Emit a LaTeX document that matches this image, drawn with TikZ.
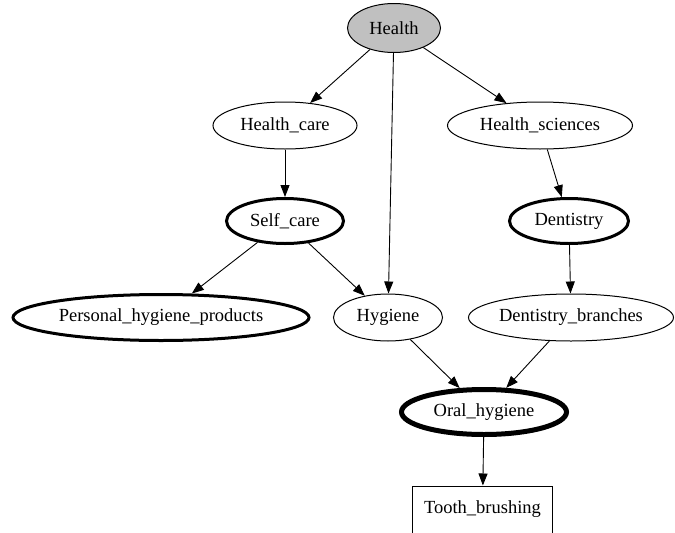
\documentclass[tikz,border=0pt]{standalone}
\usepackage{fontspec}
\setmainfont{Liberation Serif}
\usetikzlibrary{arrows.meta,shapes.geometric}
\definecolor{rootgray}{RGB}{192,192,192}

\begin{document}
\begin{tikzpicture}[x=1pt,y=-1pt,
    every node/.style={font=\fontsize{18.5}{22}\selectfont,inner sep=0pt},
    topic/.style={ellipse,draw,line width=1pt,minimum height=47pt},
    boldtopic/.style={ellipse,draw,line width=3pt,minimum height=45pt},
    arrow/.style={-{Triangle[length=12pt,width=9pt]},line width=0.9pt}]
  \useasboundingbox (0,0) rectangle (675,533);
  % Root
  \node[topic,fill=rootgray,minimum width=93pt,minimum height=49pt] (health) at (394,28) {Health};
  % Second rank
  \node[topic,minimum width=144pt] (healthcare) at (285,125.5) {Health\_care};
  \node[topic,minimum width=185pt] (healthsci) at (540,125.5) {Health\_sciences};
  % Third rank
  \node[boldtopic,minimum width=117pt] (selfcare) at (285,221) {Self\_care};
  \node[boldtopic,minimum width=119pt] (dentistry) at (569,221) {Dentistry};
  % Fourth rank
  \node[boldtopic,minimum width=296pt,minimum height=46pt] (products) at (161,317.5) {Personal\_hygiene\_products};
  \node[topic,minimum width=109pt] (hygiene) at (388,317.5) {Hygiene};
  \node[topic,minimum width=205pt] (branches) at (571,317.5) {Dentistry\_branches};
  % Oral hygiene and leaf
  \node[ellipse,draw,line width=5pt,minimum width=165pt,minimum height=45pt] (oral) at (484,412) {Oral\_hygiene};
  \node[draw,line width=1pt,minimum width=140pt,minimum height=47pt] (brushing) at (482.5,509.5) {Tooth\_brushing};
  % Edges
  \draw[arrow] (health) -- (healthcare);
  \draw[arrow] (health) -- (healthsci);
  \draw[arrow] (health) -- (hygiene);
  \draw[arrow] (healthcare) -- (selfcare);
  \draw[arrow] (healthsci) -- (dentistry);
  \draw[arrow] (selfcare) -- (products);
  \draw[arrow] (selfcare) -- (hygiene);
  \draw[arrow] (dentistry) -- (branches);
  \draw[arrow] (hygiene) -- (oral);
  \draw[arrow] (branches) -- (oral);
  \draw[arrow] (oral) -- (brushing);
\end{tikzpicture}
\end{document}
